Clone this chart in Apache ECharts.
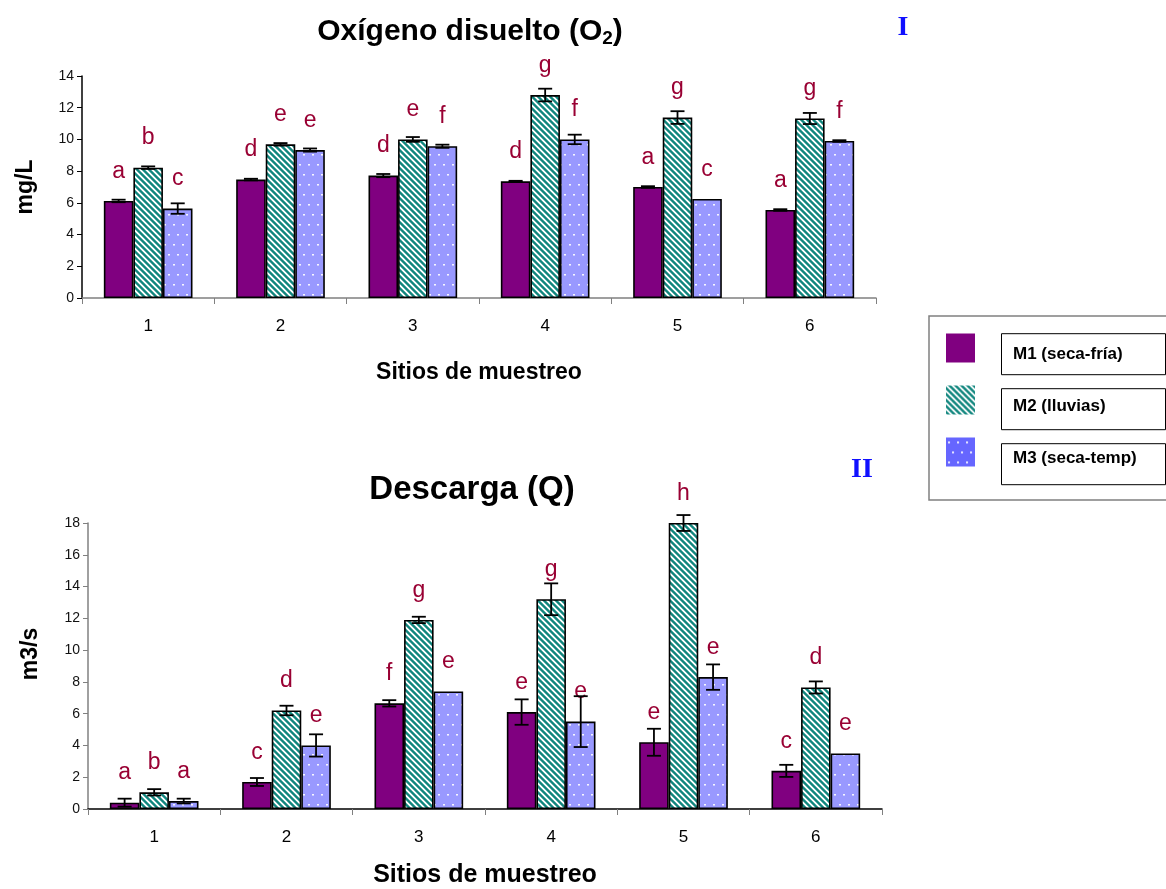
<!DOCTYPE html>
<html>
<head>
<meta charset="utf-8">
<style>
  html, body { margin: 0; padding: 0; background: #fff; }
  #chart { width: 1166px; height: 889px; }
</style>
<script src="https://cdn.jsdelivr.net/npm/echarts@6/dist/echarts.min.js"></script>
</head>
<body>
<div id="chart"></div>
<script>
// Sampling sites and campaigns
const categories = ['1', '2', '3', '4', '5', '6'];
const seriesNames = ['M1 (seca-fría)', 'M2 (lluvias)', 'M3 (seca-temp)'];

// Dissolved oxygen (mg/L): means and error
const oxM1 = [6.12, 7.47, 7.72, 7.36, 7.0, 5.55];
const oxM2 = [8.22, 9.69, 10.0, 12.8, 11.38, 11.32];
const oxM3 = [5.64, 9.33, 9.57, 10.0, 6.25, 9.9];
const oxErrM1 = [0.08, 0.05, 0.1, 0.03, 0.05, 0.05];
const oxErrM2 = [0.08, 0.08, 0.15, 0.4, 0.4, 0.35];
const oxErrM3 = [0.33, 0.1, 0.1, 0.3, 0, 0.05];
const oxLetM1 = ['a', 'd', 'd', 'd', 'a', 'a'];
const oxLetM2 = ['b', 'e', 'e', 'g', 'g', 'g'];
const oxLetM3 = ['c', 'e', 'f', 'f', 'c', 'f'];

// Discharge (m3/s): means and error
const qM1 = [0.4, 1.7, 6.65, 6.1, 4.2, 2.4];
const qM2 = [1.05, 6.2, 11.9, 13.2, 18.0, 7.65];
const qM3 = [0.5, 4.0, 7.4, 5.5, 8.3, 3.5];
const qErrM1 = [0.25, 0.25, 0.2, 0.8, 0.85, 0.38];
const qErrM2 = [0.2, 0.3, 0.2, 1.0, 0.5, 0.38];
const qErrM3 = [0.15, 0.7, 0, 1.6, 0.8, 0];
const qLetM1 = ['a', 'c', 'f', 'e', 'e', 'c'];
const qLetM2 = ['b', 'd', 'g', 'g', 'h', 'd'];
const qLetM3 = ['a', 'e', 'e', 'e', 'e', 'e'];

// Fill patterns
function makeTile(w, h, paint) {
  const c = document.createElement('canvas');
  c.width = w; c.height = h;
  const ctx = c.getContext('2d');
  const img = ctx.createImageData(w, h);
  for (let y = 0; y < h; y++) {
    for (let x = 0; x < w; x++) {
      const rgb = paint(x, y);
      const i = (y * w + x) * 4;
      img.data[i] = rgb[0]; img.data[i + 1] = rgb[1]; img.data[i + 2] = rgb[2]; img.data[i + 3] = 255;
    }
  }
  ctx.putImageData(img, 0, 0);
  return c;
}
const stripeTile = makeTile(6, 6, (x, y) => {
  const d = ((x - y) % 6 + 6) % 6;
  return d < 2 ? [255, 255, 255] : (d === 2 || d === 5 ? [90, 170, 165] : [16, 134, 126]);
});
function dots(base) {
  return makeTile(9, 20, (x, y) => {
    if ((x === 2 || x === 3) && y === 4) return [245, 245, 255];
    if ((x === 6 || x === 7) && y === 14) return [245, 245, 255];
    if ((x === 2 || x === 3) && y === 5) return [205, 205, 255];
    if ((x === 6 || x === 7) && y === 15) return [205, 205, 255];
    return base;
  });
}
const fillM1 = '#800080';
const fillM2 = { image: stripeTile, repeat: 'repeat' };
const fillM3 = { image: dots([153, 153, 255]), repeat: 'repeat' };
const fillM3Key = { image: dots([102, 102, 255]), repeat: 'repeat' };
const fills = [fillM1, fillM2, fillM3];

const letterColor = '#990033';
const FONT = 'Liberation Sans, Arial, sans-serif';

function barSeries(k, values, letters, gridIdx) {
  return {
    name: seriesNames[k],
    type: 'bar',
    xAxisIndex: gridIdx,
    yAxisIndex: gridIdx,
    data: values,
    barGap: '0%',
    barCategoryGap: '33%',
    itemStyle: { color: fills[k], borderColor: '#000', borderWidth: 1.6 },
    label: {
      show: true,
      position: 'top',
      distance: 18,
      formatter: p => letters[p.dataIndex],
      color: letterColor,
      fontSize: 23,
      fontFamily: FONT
    },
    emphasis: { disabled: true },
    z: 2
  };
}

function errorSeries(vals, errs, gridIdx) {
  const data = [];
  for (let k = 0; k < 3; k++) {
    for (let i = 0; i < categories.length; i++) {
      if (errs[k][i] > 0) data.push([i, vals[k][i], errs[k][i], k]);
    }
  }
  return {
    type: 'custom',
    xAxisIndex: gridIdx,
    yAxisIndex: gridIdx,
    data: data,
    z: 5,
    silent: true,
    renderItem: function (params, api) {
      const i = api.value(0), v = api.value(1), e = api.value(2), k = api.value(3);
      const catW = api.size([1, 0])[0];
      const bw = catW * 0.67 / 3;
      const c = api.coord([i, v]);
      const cx = c[0] + (k - 1) * bw;
      const yTop = api.coord([i, v + e])[1];
      const yBot = api.coord([i, Math.max(0, v - e)])[1];
      const hw = 7;
      const st = { stroke: '#000', lineWidth: 1.8 };
      return {
        type: 'group',
        children: [
          { type: 'line', shape: { x1: cx, y1: yTop, x2: cx, y2: yBot }, style: st },
          { type: 'line', shape: { x1: cx - hw, y1: yTop, x2: cx + hw, y2: yTop }, style: st },
          { type: 'line', shape: { x1: cx - hw, y1: yBot, x2: cx + hw, y2: yBot }, style: st }
        ]
      };
    }
  };
}

function xAxisOf(gridIdx, lineColor, nameGap, nameSize) {
  return {
    type: 'category',
    gridIndex: gridIdx,
    data: categories,
    name: 'Sitios de muestreo',
    nameLocation: 'middle',
    nameGap: nameGap,
    nameTextStyle: { fontSize: nameSize, fontWeight: 'bold', color: '#000', fontFamily: FONT },
    axisLine: { lineStyle: { color: lineColor, width: 1.5 } },
    axisTick: { show: true, length: 6, lineStyle: { color: '#808080', width: 1 } },
    axisLabel: { margin: 20, fontSize: 17, color: '#000', fontFamily: FONT }
  };
}

function yAxisOf(gridIdx, name, max, lineColor, nameGap, namePad) {
  return {
    type: 'value',
    gridIndex: gridIdx,
    min: 0,
    max: max,
    interval: 2,
    name: name,
    nameLocation: 'middle',
    nameGap: nameGap,
    nameRotate: 90,
    nameTextStyle: { fontSize: 23, fontWeight: 'bold', color: '#000', fontFamily: FONT, padding: namePad },
    axisLine: { show: true, lineStyle: { color: lineColor, width: 1.5 } },
    axisTick: { show: true, inside: false, length: 5, lineStyle: { color: lineColor, width: 1 } },
    axisLabel: { margin: 8, fontSize: 14, color: '#111', fontFamily: FONT },
    splitLine: { show: false }
  };
}

// Bordered frames around the legend captions
const keyBoxes = [333.7, 388.7, 443.7].map(y => ({
  type: 'rect',
  shape: { x: 1001.5, y: y, width: 164, height: 41 },
  style: { fill: 'none', stroke: '#000', lineWidth: 1 },
  z: 10
}));

const chart = echarts.init(document.getElementById('chart'), null, { renderer: 'canvas' });

chart.setOption({
  animation: false,
  backgroundColor: '#fff',
  grid: [
    { left: 82, right: 290, top: 76, bottom: 591, containLabel: false },
    { left: 88, right: 284, top: 523, bottom: 77, containLabel: false }
  ],
  xAxis: [
    xAxisOf(0, '#808080', 63, 23),
    xAxisOf(1, '#000', 54, 25)
  ],
  yAxis: [
    yAxisOf(0, 'mg/L', 14, '#000', 45, [0, 0, 0, 0]),
    yAxisOf(1, 'm3/s', 18, '#808080', 46, [0, 0, 0, 24])
  ],
  legend: {
    orient: 'vertical',
    left: 929,
    top: 316,
    padding: [17, 40, 33, 17],
    itemWidth: 29,
    itemHeight: 29,
    itemGap: 22,
    borderColor: '#808080',
    borderWidth: 1.5,
    selectedMode: false,
    icon: 'rect',
    itemStyle: { borderWidth: 0 },
    data: [
      { name: seriesNames[0] },
      { name: seriesNames[1] },
      { name: seriesNames[2], itemStyle: { color: fillM3Key, borderWidth: 0 } }
    ],
    formatter: n => '{sp|}{t|' + n + '}',
    textStyle: {
      rich: {
        sp: { width: 33 },
        t: {
          padding: [13, 0, 0, 0],
          lineHeight: 20,
          fontFamily: FONT,
          fontWeight: 'bold',
          fontSize: 17,
          color: '#000'
        }
      }
    }
  },
  graphic: keyBoxes.concat([
    {
      type: 'text',
      x: 470, y: 32,
      style: {
        text: '{t|Oxígeno disuelto (O}{s|2}{t|)}',
        align: 'center',
        verticalAlign: 'middle',
        rich: {
          t: { fontSize: 30, fontWeight: 'bold', fontFamily: FONT, fill: '#000', lineHeight: 36 },
          s: { fontSize: 19, fontWeight: 'bold', fontFamily: FONT, fill: '#000', padding: [14, 0, 0, 0], lineHeight: 36 }
        }
      }
    },
    {
      type: 'text',
      x: 472, y: 490,
      style: {
        text: 'Descarga (Q)',
        align: 'center',
        verticalAlign: 'middle',
        font: 'bold 33px Liberation Sans, Arial, sans-serif',
        fill: '#000'
      }
    },
    {
      type: 'text',
      x: 903, y: 28,
      style: {
        text: 'I',
        align: 'center',
        verticalAlign: 'middle',
        font: 'bold 28px Liberation Serif, Times New Roman, serif',
        fill: '#1010ff'
      }
    },
    {
      type: 'text',
      x: 862, y: 470,
      style: {
        text: 'II',
        align: 'center',
        verticalAlign: 'middle',
        font: 'bold 28px Liberation Serif, Times New Roman, serif',
        fill: '#1010ff'
      }
    }
  ]),
  series: [
    barSeries(0, oxM1, oxLetM1, 0),
    barSeries(1, oxM2, oxLetM2, 0),
    barSeries(2, oxM3, oxLetM3, 0),
    errorSeries([oxM1, oxM2, oxM3], [oxErrM1, oxErrM2, oxErrM3], 0),
    barSeries(0, qM1, qLetM1, 1),
    barSeries(1, qM2, qLetM2, 1),
    barSeries(2, qM3, qLetM3, 1),
    errorSeries([qM1, qM2, qM3], [qErrM1, qErrM2, qErrM3], 1)
  ]
});
</script>
</body>
</html>
